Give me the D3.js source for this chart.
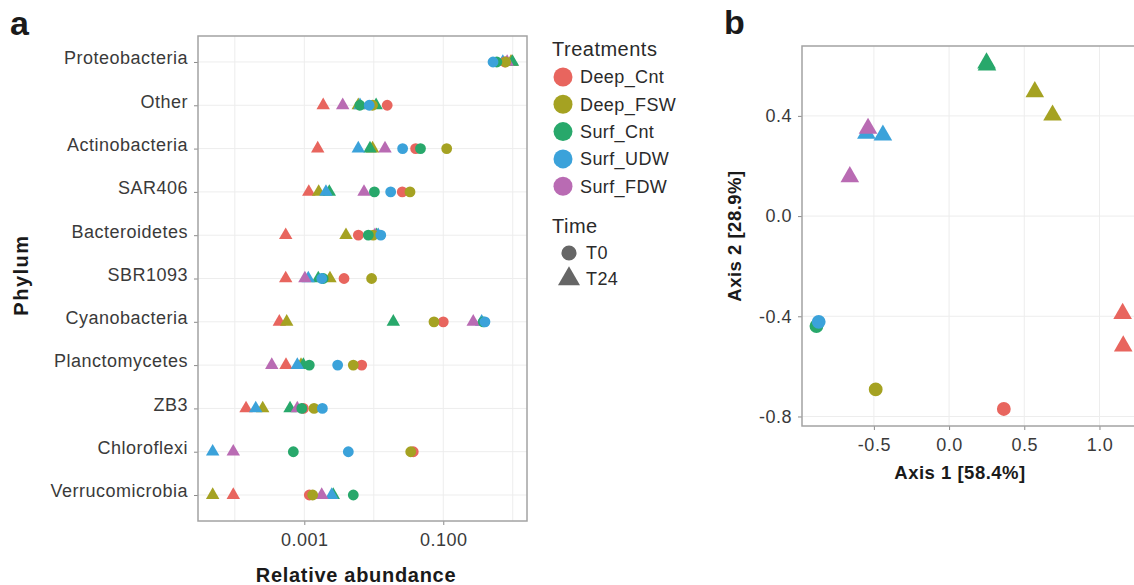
<!DOCTYPE html>
<html>
<head>
<meta charset="utf-8">
<script src="https://cdn.jsdelivr.net/npm/d3@7"></script>
<style>
	body { margin: 0; background: #fff; }
	text { font-family: "Liberation Sans", Arial, Helvetica, sans-serif; }
</style>
</head>
<body>
<svg id="chart" width="1134" height="585"></svg>
<script>
// ---- panel a: relative abundance per phylum ----
var phyla = ["Proteobacteria", "Other", "Actinobacteria", "SAR406", "Bacteroidetes", "SBR1093",
	"Cyanobacteria", "Planctomycetes", "ZB3", "Chloroflexi", "Verrucomicrobia"];
var treatments = ["Deep_Cnt", "Deep_FSW", "Surf_Cnt", "Surf_UDW", "Surf_FDW"];
var colors = ["#E8655E", "#A5A222", "#28A86B", "#3BA2DA", "#B96BB3"];
var times = ["T0", "T24"];
var xTicks = [0.001, 0.1];

// T0 (circles), one value per phylum, null = not shown
var deepCntT0 = [0.77, 0.0156, 0.040, 0.0257, 0.0060, 0.00373, 0.100, 0.0067, 0.00097, 0.037, 0.00118];
var deepFswT0 = [0.79, 0.0096, 0.112, 0.0332, 0.0098, 0.0093, 0.0735, 0.00507, 0.00138, 0.034, 0.00132];
var surfCntT0 = [0.59, 0.0063, 0.047, 0.0102, 0.00834, 0.00187, 0.377, 0.00118, 0.00092, 0.000695, 0.00507];
var surfUdwT0 = [0.52, 0.0086, 0.026, 0.0175, 0.0126, 0.00178, 0.398, 0.00302, 0.00182, 0.0043, null];
// T24 (triangles)
var deepCntT24 = [0.97, 0.00187, 0.00156, 0.00116, 0.00054, 0.00054, 0.000437, 0.000545, 0.000145, null, 0.000095];
var deepFswT24 = [0.94, 0.00598, 0.0096, 0.00161, 0.00398, 0.00234, 0.000558, 0.000897, 0.000252, null, 0.000048];
var surfCntT24 = [0.99, 0.0108, 0.00882, 0.00229, 0.0110, 0.00159, 0.0191, 0.00097, 0.000623, null, 0.00261];
var surfUdwT24 = [0.72, 0.00633, 0.00598, 0.00205, 0.0116, 0.00114, 0.357, 0.000793, 0.0002, 0.000048, 0.00248];
var surfFdwT24 = [0.83, 0.00357, 0.0145, 0.00723, 0.0104, 0.00102, 0.27, 0.00034, 0.000793, 0.000095, 0.00178];

// ---- panel b: PCoA ordination ----
var pcoaTreatment = ["Deep_Cnt", "Deep_FSW", "Surf_Cnt", "Surf_UDW",
	"Deep_Cnt", "Deep_Cnt", "Deep_FSW", "Deep_FSW", "Surf_Cnt", "Surf_Cnt",
	"Surf_UDW", "Surf_UDW", "Surf_FDW", "Surf_FDW"];
var pcoaTime = ["T0", "T0", "T0", "T0",
	"T24", "T24", "T24", "T24", "T24", "T24", "T24", "T24", "T24", "T24"];
var pcoaAxis1 = [0.364, -0.488, -0.882, -0.867,
	1.154, 1.158, 0.57, 0.688, 0.249, 0.252, -0.55, -0.44, -0.539, -0.66];
var pcoaAxis2 = [-0.77, -0.692, -0.439, -0.422,
	-0.389, -0.519, 0.496, 0.403, 0.611, 0.603, 0.33, 0.323, 0.35, 0.157];
var axis1Ticks = [-0.5, 0.0, 0.5, 1.0];
var axis2Ticks = [-0.8, -0.4, 0.0, 0.4];

var color = d3.scaleOrdinal().domain(treatments).range(colors);
var svg = d3.select("#chart");

function shapePath(time, big) {
	if (time == "T0") {
		return d3.symbol().type(d3.symbolCircle).size(big ? 150 : 92)();
	}
	return d3.symbol().type(d3.symbolTriangle).size(big ? 150 : 78)();
}

function styleTicks(a) {
	a.select(".domain").remove();
	a.selectAll("line").attr("stroke", "#8a8a8a");
	a.selectAll("text").attr("fill", "#3a3a3a")
		.style("font-size", "18px").style("letter-spacing", "0.5px");
}

// build long table for panel a
var rows = [];
var seriesT24 = [deepCntT24, deepFswT24, surfCntT24, surfUdwT24, surfFdwT24];
var seriesT0 = [deepCntT0, deepFswT0, surfCntT0, surfUdwT0];
for (var s = 0; s < seriesT24.length; s++) {
	for (var i = 0; i < phyla.length; i++) {
		if (seriesT24[s][i] != null) rows.push({phylum: phyla[i], treatment: treatments[s], time: "T24", value: seriesT24[s][i]});
	}
}
for (var s = 0; s < seriesT0.length; s++) {
	for (var i = 0; i < phyla.length; i++) {
		if (seriesT0[s][i] != null) rows.push({phylum: phyla[i], treatment: treatments[s], time: "T0", value: seriesT0[s][i]});
	}
}

// ---------- panel a ----------
var pa = {left: 198, right: 527, top: 36, bottom: 521};
var x = d3.scaleLog().domain([Math.pow(10, -4.53), Math.pow(10, 0.205)]).range([pa.left, pa.right]);
var y = d3.scalePoint().domain(phyla).range([pa.top, pa.bottom]).padding(0.6);

var ga = svg.append("g");
// grid
ga.selectAll(".vgrid")
	.data([0.0001, 0.001, 0.01, 0.1, 1])
	.enter().append("line")
	.attr("x1", function(d) { return x(d); })
	.attr("x2", function(d) { return x(d); })
	.attr("y1", pa.top).attr("y2", pa.bottom)
	.attr("stroke", "#ededed").attr("stroke-width", 1);
ga.selectAll(".hgrid")
	.data(phyla)
	.enter().append("line")
	.attr("x1", pa.left).attr("x2", pa.right)
	.attr("y1", function(d) { return y(d); })
	.attr("y2", function(d) { return y(d); })
	.attr("stroke", "#ededed").attr("stroke-width", 1);

var xAxisA = ga.append("g")
	.attr("transform", "translate(0," + pa.bottom + ")")
	.call(d3.axisBottom(x).tickValues(xTicks).tickFormat(d3.format(".3f")).tickSize(4).tickPadding(6));
var yAxisA = ga.append("g")
	.attr("transform", "translate(" + pa.left + ",0)")
	.call(d3.axisLeft(y).tickSize(4).tickPadding(6));
styleTicks(xAxisA);
styleTicks(yAxisA);
xAxisA.selectAll("text").attr("dy", "0.85em");
yAxisA.selectAll("text").attr("dy", "0.1em");

ga.append("rect")
	.attr("x", pa.left).attr("y", pa.top)
	.attr("width", pa.right - pa.left).attr("height", pa.bottom - pa.top)
	.attr("fill", "none").attr("stroke", "#a3a3a3").attr("stroke-width", 1.5);

ga.selectAll(".pt")
	.data(rows)
	.enter().append("path")
	.attr("class", "pt")
	.attr("transform", function(d) { return "translate(" + x(d.value) + "," + y(d.phylum) + ")"; })
	.attr("d", function(d) { return shapePath(d.time, false); })
	.attr("fill", function(d) { return color(d.treatment); });

ga.append("text")
	.attr("x", 356).attr("y", 582)
	.attr("text-anchor", "middle")
	.style("font-size", "20px").style("font-weight", "bold").style("letter-spacing", "0.7px")
	.attr("fill", "#1a1a1a")
	.text("Relative abundance");
ga.append("text")
	.attr("transform", "translate(28,275) rotate(-90)")
	.attr("text-anchor", "middle")
	.style("font-size", "20px").style("font-weight", "bold").style("letter-spacing", "1.5px")
	.attr("fill", "#1a1a1a")
	.text("Phylum");
svg.append("text")
	.attr("x", 10).attr("y", 35)
	.style("font-size", "34px").style("font-weight", "bold").attr("fill", "#1a1a1a")
	.text("a");

// ---------- legend ----------
var lg = svg.append("g");
lg.append("text")
	.attr("x", 552).attr("y", 56)
	.style("font-size", "20px").style("letter-spacing", "0.5px").attr("fill", "#2a2a2a")
	.text("Treatments");
var lgItem = lg.selectAll(".lgt")
	.data(treatments)
	.enter().append("g")
	.attr("transform", function(d, i) { return "translate(563," + (77 + i * 27.3) + ")"; });
lgItem.append("circle").attr("r", 9.5).attr("fill", function(d) { return color(d); });
lgItem.append("text")
	.attr("x", 17).attr("dy", "0.36em")
	.style("font-size", "18px").style("letter-spacing", "0.4px").attr("fill", "#2a2a2a")
	.text(function(d) { return d; });
lg.append("text")
	.attr("x", 552).attr("y", 233)
	.style("font-size", "20px").style("letter-spacing", "0.5px").attr("fill", "#2a2a2a")
	.text("Time");
var tmItem = lg.selectAll(".lgm")
	.data(times)
	.enter().append("g")
	.attr("transform", function(d, i) { return "translate(569," + (253 + i * 26) + ")"; });
tmItem.append("path")
	.attr("d", function(d) {
		return d == "T0" ? d3.symbol().type(d3.symbolCircle).size(180)() : d3.symbol().type(d3.symbolTriangle).size(210)();
	})
	.attr("fill", "#666");
tmItem.append("text")
	.attr("x", 17).attr("dy", "0.36em")
	.style("font-size", "18px").style("letter-spacing", "0.4px").attr("fill", "#2a2a2a")
	.text(function(d) { return d; });

// ---------- panel b ----------
var pb = {left: 802, right: 1150, top: 46, bottom: 426};
var bx = d3.scaleLinear().domain([-0.978, 1.336]).range([pb.left, pb.right]);
var by = d3.scaleLinear().domain([-0.838, 0.679]).range([pb.bottom, pb.top]);

var gb = svg.append("g");
gb.selectAll(".bvg")
	.data(axis1Ticks)
	.enter().append("line")
	.attr("x1", function(d) { return bx(d); }).attr("x2", function(d) { return bx(d); })
	.attr("y1", pb.top).attr("y2", pb.bottom)
	.attr("stroke", "#ededed");
gb.selectAll(".bhg")
	.data(axis2Ticks)
	.enter().append("line")
	.attr("x1", pb.left).attr("x2", pb.right)
	.attr("y1", function(d) { return by(d); }).attr("y2", function(d) { return by(d); })
	.attr("stroke", "#ededed");

// d3 uses a unicode minus, ggplot a plain hyphen
var fmtB = function(d) { return d3.format(".1f")(d).replace("\u2212", "-"); };
var xAxisB = gb.append("g")
	.attr("transform", "translate(0," + pb.bottom + ")")
	.call(d3.axisBottom(bx).tickValues(axis1Ticks).tickFormat(fmtB).tickSize(4).tickPadding(6));
var yAxisB = gb.append("g")
	.attr("transform", "translate(" + pb.left + ",0)")
	.call(d3.axisLeft(by).tickValues(axis2Ticks).tickFormat(fmtB).tickSize(4).tickPadding(6));
styleTicks(xAxisB);
styleTicks(yAxisB);
xAxisB.selectAll("text").attr("dy", "0.85em");

gb.append("rect")
	.attr("x", pb.left).attr("y", pb.top)
	.attr("width", pb.right - pb.left).attr("height", pb.bottom - pb.top)
	.attr("fill", "none").attr("stroke", "#a3a3a3").attr("stroke-width", 1.5);

var pcoa = pcoaAxis1.map(function(v, i) {
	return {a1: v, a2: pcoaAxis2[i], treatment: pcoaTreatment[i], time: pcoaTime[i]};
});
gb.selectAll(".bpt")
	.data(pcoa)
	.enter().append("path")
	.attr("transform", function(d) { return "translate(" + bx(d.a1) + "," + by(d.a2) + ")"; })
	.attr("d", function(d) { return shapePath(d.time, true); })
	.attr("fill", function(d) { return color(d.treatment); });

gb.append("text")
	.attr("x", 960).attr("y", 479)
	.attr("text-anchor", "middle")
	.style("font-size", "18.5px").style("font-weight", "bold").style("letter-spacing", "0.5px")
	.attr("fill", "#1a1a1a")
	.text("Axis 1 [58.4%]");
gb.append("text")
	.attr("transform", "translate(741,236) rotate(-90)")
	.attr("text-anchor", "middle")
	.style("font-size", "18.5px").style("font-weight", "bold").style("letter-spacing", "0.5px")
	.attr("fill", "#1a1a1a")
	.text("Axis 2 [28.9%]");
svg.append("text")
	.attr("x", 724).attr("y", 34)
	.style("font-size", "34px").style("font-weight", "bold").attr("fill", "#1a1a1a")
	.text("b");
</script>
</body>
</html>
